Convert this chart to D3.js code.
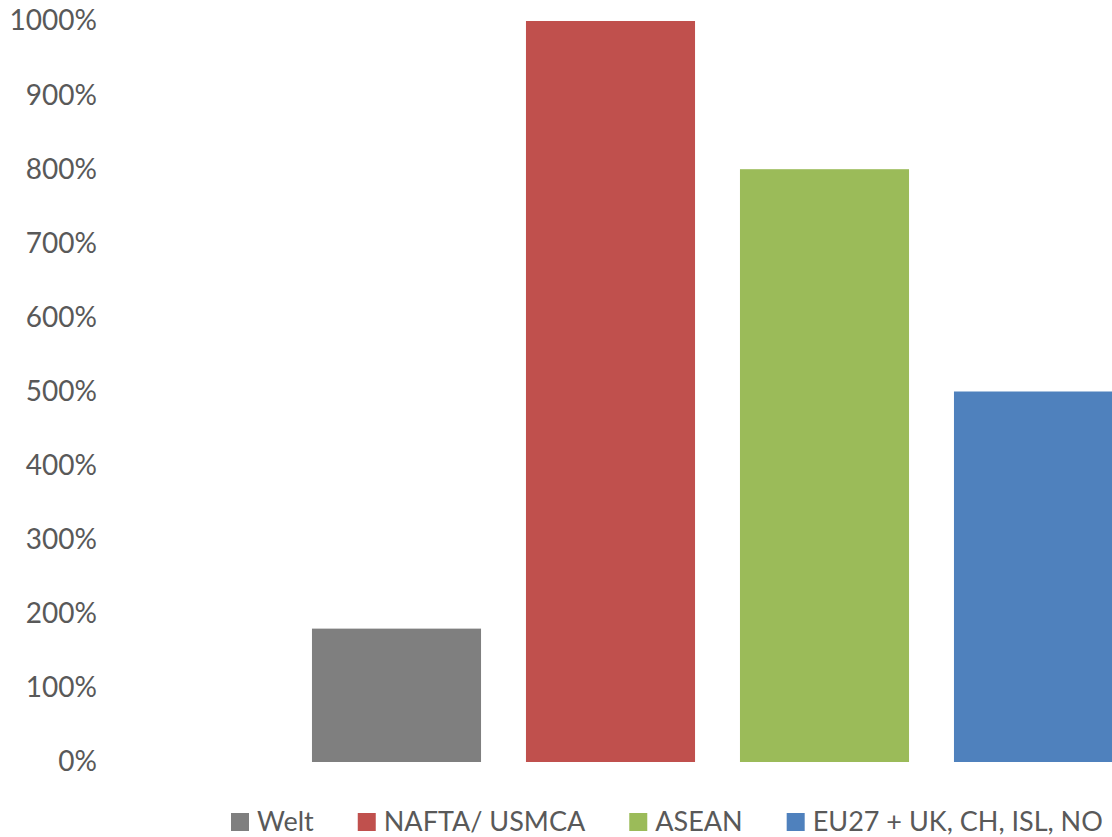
<!DOCTYPE html>
<html>
<head>
<meta charset="utf-8">
<style>
  body { margin: 0; background: #fff; }
  svg { display: block; }
  text { font-family: Lato, "Open Sans", sans-serif; fill: #595959; }
</style>
</head>
<body>
<svg width="1112" height="837"></svg>
<script src="https://cdn.jsdelivr.net/npm/d3@7/dist/d3.min.js"></script>
<script>

// series (one bar each)
var series = ["Welt", "NAFTA/ USMCA", "ASEAN", "EU27 + UK, CH, ISL, NO"];
var values = [180, 1000, 800, 500];
var colors = ["#7f7f7f", "#c0504d", "#9bbb59", "#4f81bd"];
var yTicks = [0, 100, 200, 300, 400, 500, 600, 700, 800, 900, 1000];

var svg = d3.select("svg"),
    width = +svg.attr("width"),
    height = +svg.attr("height");

var x = d3.scaleBand()
    .domain(series)
    .range([289.5, 1145.5])
    .paddingInner(0.21)
    .paddingOuter(0.105);

var y = d3.scaleLinear()
    .domain([0, 1000])
    .range([762, 21]);

// y axis labels only, no line, no grid
svg.append("g")
    .attr("transform", "translate(97,0)")
    .call(d3.axisLeft(y).tickValues(yTicks).tickSize(0).tickPadding(0)
      .tickFormat(function(d) { return d + "%"; }))
    .call(function(g) { g.select(".domain").remove(); })
    .selectAll("text")
      .style("font-size", "28px")
      .style("font-family", null)
      .attr("fill", "#595959");

svg.append("g")
  .selectAll("rect")
  .data(series)
  .enter().append("rect")
    .attr("x", function(d) { return x(d); })
    .attr("y", function(d, i) { return y(values[i]); })
    .attr("width", x.bandwidth())
    .attr("height", function(d, i) { return y(0) - y(values[i]); })
    .attr("fill", function(d, i) { return colors[i]; });

// legend, flowing left to right
var legend = svg.append("g").attr("transform", "translate(231,0)");
var lx = 0;
series.forEach(function(s, i) {
  var item = legend.append("g").attr("transform", "translate(" + lx + ",0)");
  item.append("rect")
      .attr("y", 813)
      .attr("width", 18)
      .attr("height", 18)
      .attr("fill", colors[i]);
  var t = item.append("text")
      .attr("x", 26)
      .attr("y", 831)
      .style("font-size", "27px")
      .text(s);
  lx += 26 + t.node().getComputedTextLength() + 44;
});

</script>
</body>
</html>
